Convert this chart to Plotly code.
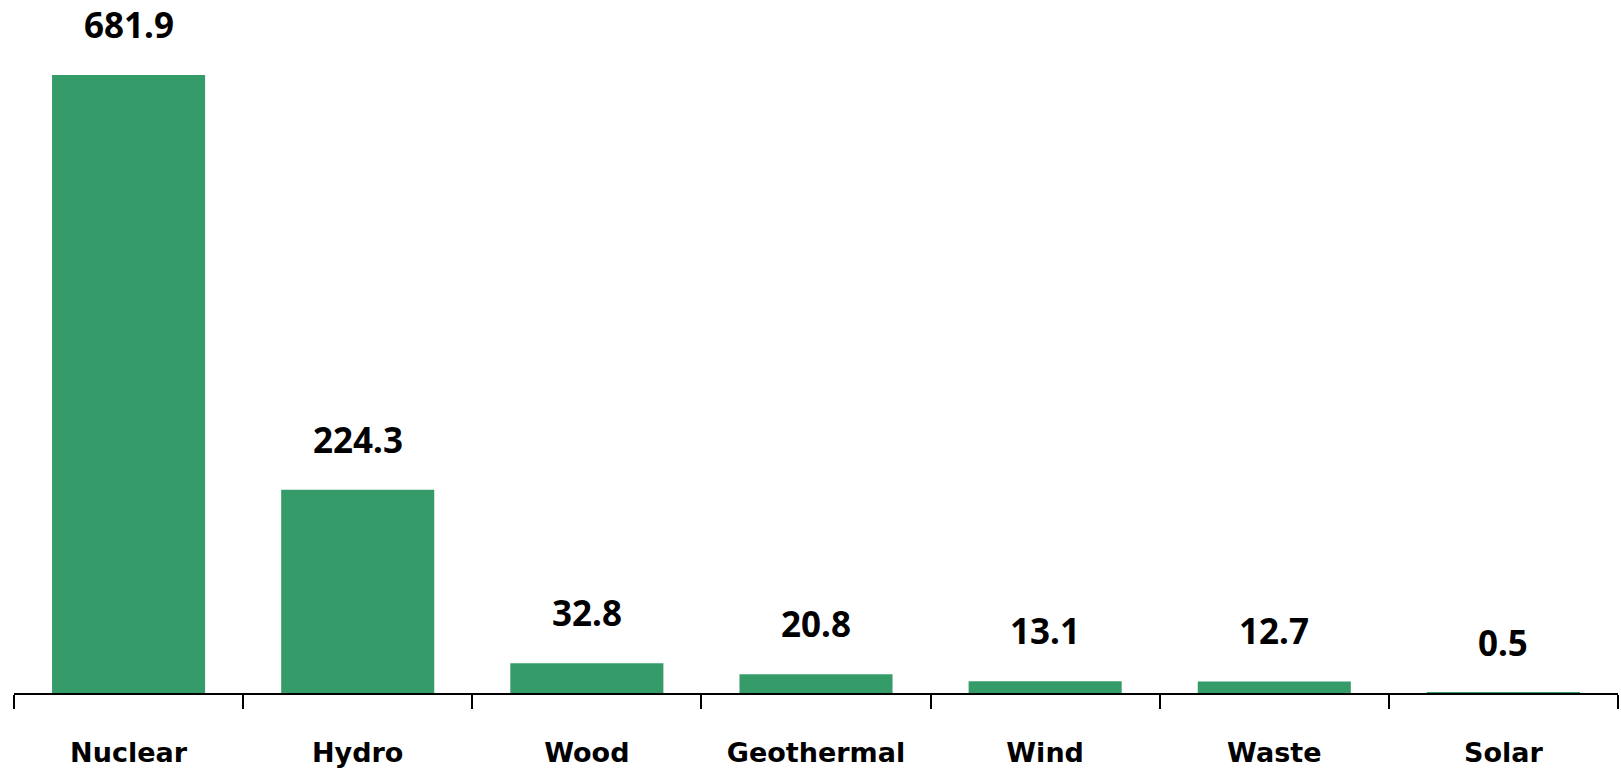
import plotly.graph_objects as go

# Electricity generation by non-fossil source
sources = ["Nuclear", "Hydro", "Wood", "Geothermal", "Wind", "Waste", "Solar"]
generation = [681.9, 224.3, 32.8, 20.8, 13.1, 12.7, 0.5]
value_labels = ["681.9", "224.3", "32.8", "20.8", "13.1", "12.7", "0.5"]

BAR_COLOR = "#359B68"

fig = go.Figure(
    go.Bar(
        x=sources,
        y=generation,
        marker=dict(color=BAR_COLOR, line=dict(width=0)),
        hoverinfo="x+y",
    )
)

for src, val, lab in zip(sources, generation, value_labels):
    fig.add_annotation(
        x=src,
        y=val,
        text=lab,
        showarrow=False,
        yanchor="bottom",
        yshift=25,
        font=dict(family="Noto Sans", size=35, color="#000000", weight="bold"),
    )

fig.update_layout(
    width=1621,
    height=771,
    margin=dict(l=14, r=3, t=0, b=78),
    paper_bgcolor="white",
    plot_bgcolor="white",
    bargap=0.332,
    showlegend=False,
    xaxis=dict(
        showline=True,
        linecolor="black",
        linewidth=2,
        ticks="outside",
        tickson="boundaries",
        ticklen=14,
        tickwidth=2,
        tickcolor="black",
        showgrid=False,
        zeroline=False,
        ticklabelstandoff=35,
        tickfont=dict(family="DejaVu Sans", size=27, color="#000000", weight="bold"),
    ),
    yaxis=dict(
        range=[0, 764.6],
        visible=False,
        showgrid=False,
        zeroline=False,
    ),
)

fig.write_html("out.html")
